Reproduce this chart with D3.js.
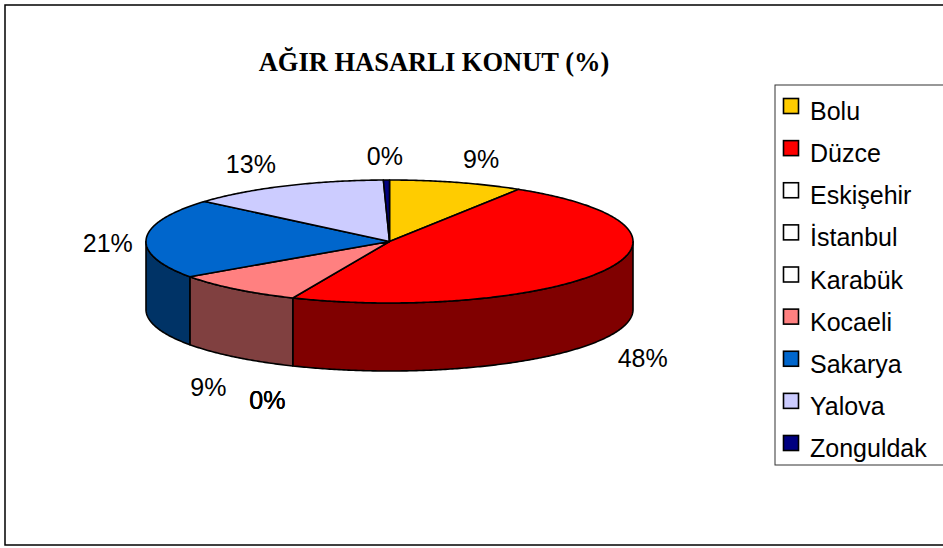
<!DOCTYPE html>
<meta charset="utf-8" />
<head>
  <style>
    body {
      margin: 0;
      background: #fff;
    }
    svg text {
      font-family: "Liberation Sans", Arial, sans-serif;
    }
    .title {
      font-family: "Liberation Serif", "Times New Roman", serif;
      font-weight: 700;
      font-size: 26.5px;
    }
  </style>
</head>
<script src="https://cdnjs.cloudflare.com/ajax/libs/d3/7.8.5/d3.min.js"></script>
<body>
  <div id="chart"></div>
  <script>
    ////////////////////////////////////
    ///////////// Data /////////////////
    ////////////////////////////////////

    const cities = [
      "Bolu",
      "Düzce",
      "Eskişehir",
      "İstanbul",
      "Karabük",
      "Kocaeli",
      "Sakarya",
      "Yalova",
      "Zonguldak",
    ];
    // share of heavily damaged housing (%)
    const shares = [8.9, 47.6, 0, 0, 0, 8.8, 21.0, 13.3, 0.4];

    const topColors = ["#FFCC00", "#FF0000", "#FFFFFF", "#FFFFFF", "#FFFFFF", "#FF8080", "#0066CC", "#CCCCFF", "#000080"];
    const sideColors = ["#806600", "#800000", "#808080", "#808080", "#808080", "#804040", "#003366", "#666680", "#000040"];

    const title = "AĞIR HASARLI KONUT (%)";

    ////////////////////////////////////
    ///////////// SVG Setup ////////////
    ////////////////////////////////////

    const svgWidth = 943;
    const svgHeight = 548;

    const svg = d3
      .select("#chart")
      .append("svg")
      .attr("width", svgWidth)
      .attr("height", svgHeight);

    // chart area border (right side runs off the page)
    svg
      .append("rect")
      .attr("x", 5)
      .attr("y", 5)
      .attr("width", 960)
      .attr("height", 540)
      .attr("fill", "none")
      .attr("stroke", "#000")
      .attr("stroke-width", 1.5);

    svg
      .append("text")
      .attr("class", "title")
      .attr("x", 434)
      .attr("y", 71)
      .attr("text-anchor", "middle")
      .text(title);

    ////////////////////////////////////
    ///////////// Pie geometry /////////
    ////////////////////////////////////

    const cx = 389.5;
    const cy = 241.5;
    const rx = 243.5;
    const ry = 61.5;
    const depth = 68;

    const data = cities.map((c, i) => ({ city: c, value: shares[i], i: i }));
    const total = d3.sum(shares);

    const arcs = d3
      .pie()
      .sort(null)
      .value((d) => d.value)(data);

    // point on the tilted ellipse, angle measured clockwise from 12 o'clock
    function pt(a, dy) {
      return [cx + rx * Math.sin(a), cy - ry * Math.cos(a) + (dy || 0)];
    }

    function arcPts(a0, a1, dy) {
      const n = Math.max(2, Math.ceil(Math.abs(a1 - a0) / 0.01));
      return d3.range(n + 1).map((k) => pt(a0 + ((a1 - a0) * k) / n, dy));
    }

    const line = d3.line();

    // side walls, only the front half (90° to 270°) can be seen
    const g = svg.append("g");
    arcs.forEach((d) => {
      const a0 = Math.max(d.startAngle, Math.PI / 2);
      const a1 = Math.min(d.endAngle, (3 * Math.PI) / 2);
      if (a1 <= a0) return;
      const pts = arcPts(a0, a1, 0).concat(arcPts(a1, a0, depth));
      g.append("path")
        .attr("d", line(pts) + "Z")
        .attr("fill", sideColors[d.data.i])
        .attr("stroke", "#000")
        .attr("stroke-width", 1.6)
        .attr("stroke-linejoin", "round");
    });

    // top faces
    arcs.forEach((d) => {
      if (d.endAngle - d.startAngle <= 0) return;
      const pts = [[cx, cy]].concat(arcPts(d.startAngle, d.endAngle, 0));
      g.append("path")
        .attr("d", line(pts) + "Z")
        .attr("fill", topColors[d.data.i])
        .attr("stroke", "#000")
        .attr("stroke-width", 1.6)
        .attr("stroke-linejoin", "round");
    });

    ////////////////////////////////////
    ///////////// Labels ///////////////
    ////////////////////////////////////

    // labels sit on a wider ellipse, pushed outward by part of their own width
    const labelRx = 251;
    const labelRy = 92;

    arcs.forEach((d) => {
      const mid = (d.startAngle + d.endAngle) / 2;
      const s = Math.sin(mid);
      const front = Math.cos(mid) < 0 ? depth : 0;
      const label = svg
        .append("text")
        .attr("dy", "0.36em")
        .attr("text-anchor", "middle")
        .attr("font-size", "25px")
        .attr("fill", "#000")
        .text(d3.format(".0f")((d.data.value / total) * 100) + "%");
      const w = label.node().getComputedTextLength();
      const push = Math.max(-1, Math.min(1, s * 5)) * w * 0.62;
      label
        .attr("x", cx + labelRx * s + push)
        .attr("y", cy - labelRy * Math.cos(mid) + front + 6);
    });

    ////////////////////////////////////
    ///////////// Legend ///////////////
    ////////////////////////////////////

    const legendY = d3
      .scalePoint()
      .domain(cities)
      .range([106, 443]);

    svg
      .append("rect")
      .attr("x", 775)
      .attr("y", 85)
      .attr("width", 200)
      .attr("height", 380)
      .attr("fill", "#fff")
      .attr("stroke", "#333")
      .attr("stroke-width", 1);

    const legend = svg
      .selectAll(".legend-item")
      .data(cities)
      .join("g")
      .attr("class", "legend-item")
      .attr("transform", (d) => `translate(783,${legendY(d)})`);

    legend
      .append("rect")
      .attr("x", 0.5)
      .attr("y", -7.5)
      .attr("width", 15)
      .attr("height", 15)
      .attr("fill", (d, i) => topColors[i])
      .attr("stroke", "#000")
      .attr("stroke-width", 1.6);

    legend
      .append("text")
      .attr("x", 27)
      .attr("y", 5)
      .attr("dy", "0.36em")
      .attr("font-size", "25px")
      .attr("fill", "#000")
      .text((d) => d);
  </script>
</body>
